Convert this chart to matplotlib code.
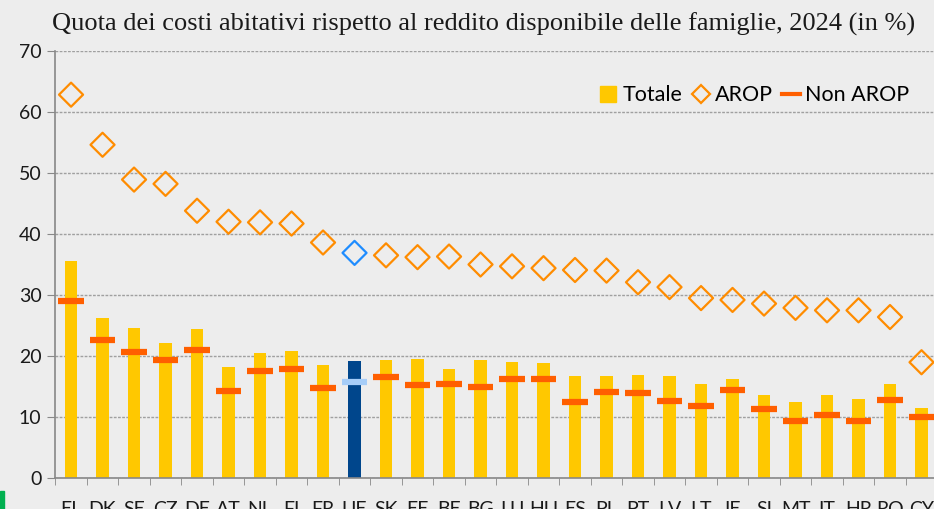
import numpy as np
import matplotlib
matplotlib.use("Agg")
import matplotlib.pyplot as plt
from matplotlib.lines import Line2D
from matplotlib.patches import Rectangle

# dati
paesi = ["EL", "DK", "SE", "CZ", "DE", "AT", "NL", "FI", "FR", "UE", "SK", "EE", "BE", "BG",
         "LU", "HU", "ES", "PL", "PT", "LV", "LT", "IE", "SI", "MT", "IT", "HR", "RO", "CY"]
totale = [35.6, 26.3, 24.6, 22.1, 24.5, 18.3, 20.5, 20.9, 18.5, 19.2, 19.4, 19.5, 17.9, 19.4,
          19.1, 18.9, 16.7, 16.7, 16.9, 16.7, 15.5, 16.3, 13.6, 12.5, 13.6, 13.0, 15.4, 11.5]
arop = [62.8, 54.6, 48.9, 48.2, 43.8, 42.0, 41.9, 41.7, 38.6, 36.9, 36.5, 36.2, 36.3, 35.0,
        34.7, 34.4, 34.1, 34.0, 32.1, 31.3, 29.5, 29.2, 28.6, 27.9, 27.5, 27.5, 26.4, 19.0]
non_arop = [29.1, 22.6, 20.7, 19.4, 21.0, 14.3, 17.6, 17.9, 14.8, 15.8, 16.6, 15.3, 15.5, 15.0,
            16.3, 16.3, 12.5, 14.2, 13.9, 12.7, 11.9, 14.5, 11.4, 9.4, 10.4, 9.4, 12.9, 10.1]

sfondo = "#EDEDED"
giallo = "#FFC800"
arancio = "#FF8C00"
rosso = "#FF5F00"

x = np.arange(len(paesi))
ue = paesi.index("UE")

fig = plt.figure(figsize=(9.34, 5.09), dpi=100, facecolor=sfondo)
ax = fig.add_axes([0.0592, 0.0603, 0.9443, 0.8401])
ax.set_facecolor(sfondo)

col_barre = [giallo] * len(paesi)
col_barre[ue] = "#00468C"
ax.bar(x, totale, width=0.39, color=col_barre, zorder=2)

# segmenti Non AROP
col_seg = [rosso] * len(paesi)
col_seg[ue] = "#A6CDF8"
ax.hlines(non_arop, x - 0.4, x + 0.4, colors=col_seg, linewidth=4.5, zorder=3)

# rombi AROP
col_rombi = [arancio] * len(paesi)
col_rombi[ue] = "#1E8CFF"
ax.scatter(x, arop, marker="D", s=150, facecolors="none", edgecolors=col_rombi,
           linewidths=1.6, zorder=4)

ax.set_xlim(-0.5, len(paesi) - 0.5)
ax.set_ylim(0, 70)
ax.set_yticks(range(0, 71, 10))
ax.yaxis.grid(True, linestyle=(0, (2, 1)), color="#A0A0A0", linewidth=1, zorder=0)
ax.set_axisbelow(True)

ax.set_xticks(x)
ax.set_xticklabels(paesi, fontsize=14, family="Lato", color="#1a1a1a")
ax.set_xticks(np.arange(-0.5, len(paesi), 1), minor=True)
ax.tick_params(axis="x", which="major", length=0, pad=16)
ax.tick_params(axis="x", which="minor", length=5, color="#888888")
ax.tick_params(axis="y", length=6, color="#888888", labelsize=14, pad=4)
for t in ax.get_yticklabels():
    t.set_family("Lato")
    t.set_color("#1a1a1a")

for s in ["top", "right"]:
    ax.spines[s].set_visible(False)
for s in ["left", "bottom"]:
    ax.spines[s].set_color("#888888")
    ax.spines[s].set_linewidth(1.2)

fig.text(0.518, 0.952, "Quota dei costi abitativi rispetto al reddito disponibile delle famiglie, 2024 (in %)",
         ha="center", va="center", fontsize=19, family="Liberation Serif", color="#1a1a1a")

maniglie = [
    Line2D([], [], marker="s", linestyle="none", color=giallo, markersize=11),
    Line2D([], [], marker="D", linestyle="none", markerfacecolor="none",
           markeredgecolor=arancio, markeredgewidth=1.6, markersize=9),
    Line2D([], [], color=rosso, linewidth=3),
]
leg = ax.legend(maniglie, ["Totale", "AROP", "Non AROP"], loc="upper right",
                bbox_to_anchor=(0.99, 0.965), ncol=3, frameon=False, handlelength=0.8,
                handletextpad=0.25, columnspacing=0.45, prop={"family": "Lato", "size": 15.5})

# piccolo segno verde in basso a sinistra
fig.patches.append(Rectangle((0.0, 0.0), 0.004, 0.035, transform=fig.transFigure,
                             color="#00B050", zorder=5))

fig.savefig("out.png", dpi=100, facecolor=sfondo)
